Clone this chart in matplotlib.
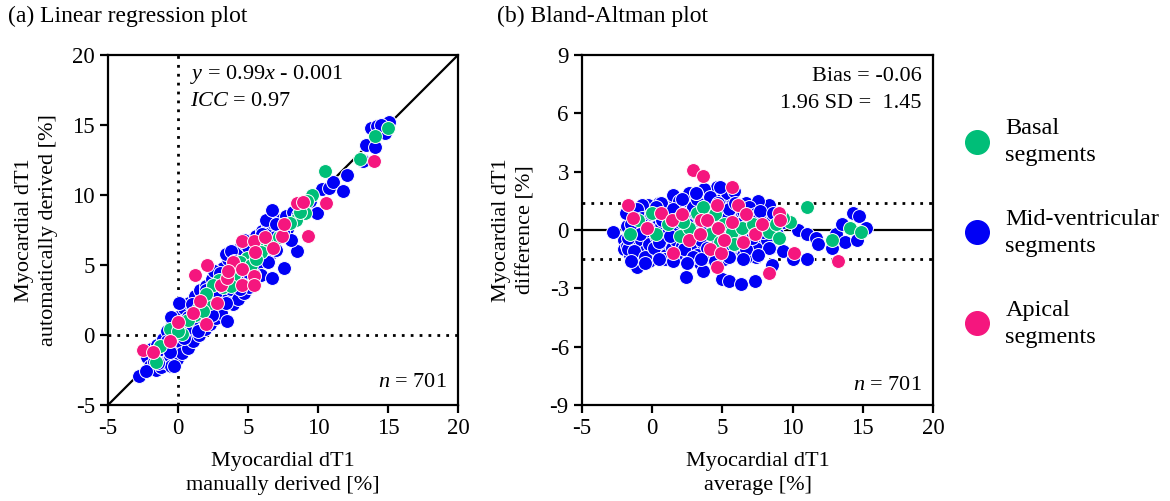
import matplotlib
matplotlib.use("Agg")
import matplotlib.pyplot as plt
from matplotlib.lines import Line2D

plt.rcParams['font.family'] = ['Liberation Serif', 'DejaVu Serif']
plt.rcParams['mathtext.fontset'] = 'custom'
plt.rcParams['mathtext.rm'] = 'Liberation Serif'
plt.rcParams['mathtext.it'] = 'Liberation Serif:italic'
plt.rcParams['axes.unicode_minus'] = False

# couleurs des segments
col_basal = '#00BE78'
col_mid = '#0000F5'
col_apical = '#F5167E'

# (a) regression : manuel (x) vs automatique (y)
reg_mid_x = [-2.2, -2.0, -1.9, -1.7, -1.6, -1.5, -1.4, -1.2, -1.1, -1.0, -0.9, -0.8, -0.7, -0.6, -0.5,
             -0.4, -0.3, -0.2, -0.1, 0.0, 0.1, 0.2, 0.3, 0.4, 0.5, 0.6, 0.7, 0.8, 0.9, 1.0, 1.1, 1.2,
             1.3, 1.4, 1.5, 1.6, 1.7, 1.8, 1.9, 2.0, 2.1, 2.2, 2.3, 2.4, 2.5, 2.6, 2.7, 2.8, 2.9, 3.0,
             3.1, 3.2, 3.3, 3.4, 3.6, 3.7, 3.8, 3.9, 4.0, 4.1, 4.2, 4.3, 4.4, 4.5, 4.6, 4.7, 4.8, 4.9,
             5.0, 5.1, 5.2, 5.3, 5.4, 5.5, 5.6, 5.7, 5.8, 5.9, 6.0, 6.1, 6.2, 6.4, 6.5, 6.6, 6.8, 6.9,
             7.0, 7.3, 7.4, 7.7, 7.8, 8.2, 8.6, 9.0, 9.4, 9.9, 10.3, 10.8, 11.1, 11.8, 12.1, 13.2, 13.4,
             14.1, 13.8, 14.2, 14.8, 15.1, 14.5, 13.2,
             -2.8, -0.3, 3.5, 7.6, 6.7, 8.5, 8.1, 3.4, 3.8, 4.7, 2.6, 0.1, -0.5, 6.3, 6.7, 7.5,
             -1.8, -1.3, -0.8, -0.3, 0.2, 0.7, 1.2, 1.7, 2.2, 2.7, 3.2, 3.7, 4.2, 4.7, 5.2, 5.7, 6.2,
             -2.3, -1.4, -0.6, 0.4, 1.4, 2.4, 3.4, 4.4, 5.4, 6.4, 1.0, 2.0, 3.0, 4.0, 5.0, 6.0, 7.0]
reg_mid_y = [-1.6, -2.2, -1.0, -1.9, -2.5, -0.7, -1.5, -2.3, -0.3, -1.1, -1.9, 0.3, -0.6, -1.5, -2.2,
             0.8, -0.1, -1.0, -1.7, 1.3, 0.4, -0.5, -1.3, 1.9, 0.9, -0.1, -0.9, 2.3, 1.4, 0.4, -0.4, 2.8,
             1.8, 0.8, 0.0, 3.2, 2.2, 1.2, 0.4, 3.5, 2.6, 1.7, 0.8, 4.0, 3.0, 2.1, 1.2, 4.4, 3.4, 2.5,
             1.6, 4.8, 3.8, 2.9, 5.4, 4.3, 3.3, 2.2, 5.9, 4.7, 3.7, 2.6, 6.2, 5.1, 4.1, 3.0, 6.5, 5.5,
             4.5, 3.4, 6.8, 5.8, 4.9, 3.9, 7.1, 6.1, 5.2, 4.3, 7.4, 6.4, 5.5, 7.7, 6.7, 5.8, 8.0, 7.0,
             6.1, 8.2, 7.3, 8.5, 7.6, 8.8, 8.6, 9.4, 9.6, 8.7, 10.4, 10.5, 10.9, 10.3, 11.4, 12.5, 13.6,
             13.4, 14.8, 14.9, 14.4, 15.2, 15.0, 12.4,
             -2.9, -2.2, 1.0, 4.8, 4.1, 6.0, 6.8, 5.8, 6.0, 6.8, 4.6, 2.3, 1.3, 8.2, 8.9, 7.4,
             -1.2, -0.8, -0.4, 0.0, 0.9, 1.3, 1.6, 2.0, 2.5, 3.1, 3.5, 4.0, 4.6, 5.0, 5.5, 6.3, 6.9,
             -2.6, -2.0, -1.2, -0.2, 0.3, 1.4, 2.3, 3.3, 4.3, 5.2, 2.2, 3.2, 4.4, 5.3, 6.3, 7.2, 7.9]

reg_basal_x = [15.0, 14.1, 13.0, 10.5, 9.6, 9.2, 9.1, 8.4, 8.0, 6.2, 5.6, 4.9, 4.4, 4.2, 3.5, 2.9, 2.5,
               2.3, 2.0, 1.5, 1.2, 0.7, 0.3, -0.6, -1.3, -1.6, 3.2, 4.0, 5.2, 6.6, 7.2, 3.8, 1.8, 0.0,
               5.9, 8.7, 5.6]
reg_basal_y = [14.8, 14.2, 12.6, 11.7, 10.0, 9.6, 8.7, 8.2, 8.0, 6.2, 5.6, 5.5, 5.2, 4.6, 4.1, 3.9, 3.6,
               2.3, 2.9, 2.0, 1.4, 1.1, 0.1, 0.4, -0.8, -1.9, 3.4, 4.3, 5.0, 6.5, 7.0, 3.5, 1.7, 0.3,
               5.9, 8.8, 5.4]

reg_apical_x = [-2.5, -1.8, -0.6, 0.0, 1.1, 1.2, 2.1, 1.6, 2.0, 2.8, 3.1, 3.5, 3.9, 4.6, 4.6, 4.6, 5.4,
                5.5, 5.4, 5.4, 6.2, 6.8, 7.4, 7.6, 8.5, 8.9, 9.3, 10.6, 14.0, 3.6]
reg_apical_y = [-1.1, -1.2, -0.4, 0.9, 1.6, 4.3, 5.0, 2.4, 0.8, 2.3, 3.6, 4.1, 5.2, 3.6, 4.7, 6.7, 6.7,
                5.9, 4.2, 3.6, 7.0, 6.2, 7.1, 7.9, 9.4, 9.5, 7.1, 9.4, 12.4, 4.6]

# (b) Bland-Altman : moyenne (x) vs difference (y)
ba_mid_x = [-2.0, -2.0, -1.8, -1.8, -1.6, -1.6, -1.4, -1.3, -1.2, -1.0, -1.0, -0.8, -0.8, -0.6, -0.5,
            -0.4, -0.3, -0.2, 0.0, 0.0, 0.2, 0.3, 0.4, 0.5, 0.6, 0.8, 0.9, 1.0, 1.1, 1.2, 1.3, 1.4,
            1.5, 1.6, 1.7, 1.8, 1.9, 2.0, 2.1, 2.2, 2.3, 2.4, 2.5, 2.6, 2.7, 2.8, 2.9, 3.0, 3.1, 3.2,
            3.3, 3.4, 3.5, 3.6, 3.7, 3.8, 3.9, 4.0, 4.1, 4.2, 4.3, 4.4, 4.5, 4.6, 4.7, 4.8, 4.9, 5.0,
            5.1, 5.2, 5.3, 5.4, 5.5, 5.6, 5.7, 5.8, 5.9, 6.0, 6.1, 6.2, 6.3, 6.4, 6.5, 6.6, 6.7, 6.8,
            6.9, 7.0, 7.1, 7.2, 7.4, 7.5, 7.6, 7.8, 8.0, 8.1, 8.2, 8.5, 8.7, 9.0, 9.3,
            -2.8, -1.1, 2.4, 5.0, 5.5, 6.3, 7.3, 8.5, 8.4, 9.3, 10.0, 11.0, 10.4, 11.0, 11.7, 11.8,
            12.8, 13.1, 13.5, 13.7, 14.3, 14.7, 14.6, 15.2, 8.3, 7.5, 4.8, 5.8, 3.7, 3.1, 1.5, 1.9,
            -0.7, 0.6, 7.4, 6.7, 3.6, 2.5, 3.2, 0.8, -0.2, -1.7, -1.0,
            -1.9, -1.7, -1.5, -1.3, -1.1, -0.9, -0.7, -0.5, -0.3, -0.1, 0.1, 0.3, 0.5, 0.7, 0.9, 1.1,
            1.3, 1.5, 1.7, 1.9, 2.1, 2.3, 2.5, 2.7, 2.9, 3.1, 3.3, 3.5, 3.7, 3.9, 4.1, 4.3, 4.5, 4.7,
            4.9, 5.1, 5.3, 5.5, 5.7, 5.9, 6.1, 6.3, 6.5, 6.7, 6.9, 7.1, 7.3, 7.7, 7.9, 8.3, 8.6, 8.9,
            -1.5, -0.5, 0.5, 1.5, 2.5, 3.5, 4.5, 5.5, 6.5, 7.5]
ba_mid_y = [-0.5, -1.0, 0.2, -0.8, 0.7, -1.3, -0.3, 0.9, -0.9, 0.3, -1.5, 1.2, -0.5, 0.6, -1.1,
            -0.1, 1.3, -0.7, 0.4, -1.3, 1.0, -0.3, -1.0, 1.4, 0.2, -0.7, 0.9, -1.3, -0.1, 1.2, 0.5, -0.9,
            1.7, 0.1, -0.5, 1.0, -1.2, 0.4, -0.8, 1.4, -0.2, 0.8, -1.4, 1.9, 0.2, -0.6, 1.2, -1.1, 0.5, 1.6,
            -0.3, -1.7, 0.9, -0.7, 2.0, 0.2, -1.2, 1.3, -0.4, 0.6, -1.5, 1.7, -0.1, 2.2, -0.9, 0.9, -1.3, 0.3,
            1.5, -0.6, 1.9, 0.0, -1.1, 0.8, 1.3, -0.4, -1.0, 0.5, 1.1, -0.2, -0.8, 0.9, -1.3, 0.2, 1.4, -0.5,
            0.6, -1.0, 1.0, 0.0, -0.7, 1.5, 0.4, -0.3, 0.9, 1.2, -0.5, 0.5, 0.2, 0.3, 0.4,
            -0.1, -1.9, -2.4, -2.5, -2.6, -2.8, -2.6, -1.8, -0.9, -1.1, -1.5, -1.5, 0.0, -0.2, -0.4, -0.7,
            -0.9, -0.2, 0.3, -0.6, 0.9, 0.7, -0.5, 0.1, 1.3, 1.5, 2.2, 2.0, 2.1, 1.9, 1.8, 1.5,
            1.3, 1.4, -1.4, -1.4, -2.1, -1.3, -1.3, -1.5, -1.6, -1.0, -1.4,
            0.9, -0.4, 0.3, -1.1, 1.1, -0.2, 0.6, -1.4, 0.1, 0.8, -0.9, 1.2, -0.6, 0.5, -1.5, 0.7,
            -0.3, 1.1, -1.3, 0.6, 1.6, -1.0, 0.3, -0.1, -1.4, 1.9, 0.9, -0.5, 1.2, -0.9, 1.7, 0.3, -1.2, 1.4,
            -0.3, -1.5, 0.6, 1.1, -0.8, 1.4, 0.3, -0.6, 1.0, -1.0, 1.2, -0.4, 0.8, 1.0, -0.1, -0.9, 0.9, -0.2,
            -1.6, -1.7, -1.5, -1.6, -1.7, -1.5, -1.6, -1.4, -1.5, -1.3]

ba_basal_x = [11.0, -1.6, -1.0, 0.0, 0.3, 1.1, 2.0, 2.6, 3.2, 3.6, 4.1, 4.5, 5.1, 5.7, 5.8, 6.4, 7.2,
              8.3, 9.0, 8.8, 9.8, 9.3, 12.8, 14.1, 14.9, 2.2, 4.8]
ba_basal_y = [1.2, -0.2, 0.5, 0.9, -0.2, 0.3, -0.3, 0.1, 0.9, 1.2, -0.2, 0.8, 0.3, -0.1, -0.7, 0.1, 0.3,
              -0.1, -0.4, 0.3, 0.4, 0.6, -0.5, 0.1, -0.1, 0.4, -0.6]

ba_apical_x = [2.9, 3.6, 5.7, -1.7, -1.4, -0.4, 0.6, 1.4, 2.1, 1.5, 2.6, 3.4, 3.5, 3.9, 4.1, 4.6, 4.6,
               4.7, 4.9, 5.1, 5.7, 6.1, 6.5, 6.7, 7.3, 7.8, 8.3, 9.0, 9.1, 10.1, 13.2]
ba_apical_y = [3.1, 2.8, 2.2, 1.3, 0.6, 0.1, 0.9, 0.5, 0.8, -1.2, -0.5, -0.2, 0.5, 0.5, -1.0, 1.3, -1.9,
               0.1, -1.2, -0.5, 0.4, 1.3, -0.6, 0.8, -0.2, 0.3, -2.2, 0.9, 0.5, -1.2, -1.6]

bias = -0.06
sd196 = 1.45

fig = plt.figure(figsize=(11.7, 5.01), dpi=100)
ax1 = fig.add_axes([108 / 1170, 1 - 405 / 501, 350 / 1170, 350 / 501])
ax2 = fig.add_axes([582 / 1170, 1 - 405 / 501, 351 / 1170, 350 / 501])

fs = 16
pts = dict(s=100, edgecolors='white', linewidths=0.7, zorder=3)
lab = dict(fontsize=fs, linespacing=1.4)

# (a)
ax1.plot([-5, 20], [-5, 20], color='black', lw=1.6, zorder=2)
ax1.axvline(0, color='black', ls=(0, (1, 2.2)), lw=2, zorder=1)
ax1.axhline(0, color='black', ls=(0, (1, 2.2)), lw=2, zorder=1)
ax1.scatter(reg_mid_x, reg_mid_y, color=col_mid, **pts)
ax1.scatter(reg_basal_x, reg_basal_y, color=col_basal, **pts)
ax1.scatter(reg_apical_x, reg_apical_y, color=col_apical, **pts)
ax1.set_xlim(-5, 20)
ax1.set_ylim(-5, 20)
ax1.set_xticks(range(-5, 21, 5))
ax1.set_yticks(range(-5, 21, 5))
ax1.set_xlabel("Myocardial dT1\nmanually derived [%]", labelpad=9, **lab)
ax1.set_ylabel("Myocardial dT1\nautomatically derived [%]", labelpad=10, **lab)
ax1.text(0.86, 18.6, r"$y$ = 0.99$x$ - 0.001", fontsize=fs, va='center')
ax1.text(0.86, 16.7, r"$ICC$ = 0.97", fontsize=fs, va='center')
ax1.text(19.2, -3.4, r"$n$ = 701", fontsize=fs, ha='right', va='center')

# (b)
ax2.axhline(0, color='black', lw=1.6, zorder=1)
ax2.axhline(bias + sd196, color='black', ls=(0, (1, 2.2)), lw=2, zorder=1)
ax2.axhline(bias - sd196, color='black', ls=(0, (1, 2.2)), lw=2, zorder=1)
ax2.scatter(ba_mid_x, ba_mid_y, color=col_mid, **pts)
ax2.scatter(ba_basal_x, ba_basal_y, color=col_basal, **pts)
ax2.scatter(ba_apical_x, ba_apical_y, color=col_apical, **pts)
ax2.set_xlim(-5, 20)
ax2.set_ylim(-9, 9)
ax2.set_xticks(range(-5, 21, 5))
ax2.set_yticks(range(-9, 10, 3))
ax2.set_xlabel("Myocardial dT1\naverage [%]", labelpad=9, **lab)
ax2.set_ylabel("Myocardial dT1\ndifference [%]", labelpad=10, **lab)
ax2.text(19.2, 7.9, "Bias = %.2f" % bias, fontsize=fs, ha='right', va='center')
ax2.text(19.2, 6.5, "1.96 SD =  %.2f" % sd196, fontsize=fs, ha='right', va='center')
ax2.text(19.2, -8.0, r"$n$ = 701", fontsize=fs, ha='right', va='center')

for ax in (ax1, ax2):
    for sp in ax.spines.values():
        sp.set_linewidth(1.6)
    ax.tick_params(direction='out', length=6, width=1.6, labelsize=16.5)

fig.text(8 / 1170, 1 - 16 / 501, "(a) Linear regression plot", fontsize=17, va='center')
fig.text(497 / 1170, 1 - 16 / 501, "(b) Bland-Altman plot", fontsize=17, va='center')

handles = [Line2D([], [], marker='o', ls='', markersize=17, color=c)
           for c in (col_basal, col_mid, col_apical)]
labels = ["Basal\nsegments", "Mid-ventricular\nsegments", "Apical\nsegments"]
leg = fig.legend(handles, labels, loc='center left', bbox_to_anchor=(960 / 1170, 1 - 233 / 501),
                 frameon=False, fontsize=17.5, labelspacing=1.75, handletextpad=0.47,
                 handlelength=1.4, borderpad=0, borderaxespad=0)
for t in leg.get_texts():
    t.set_linespacing(1.4)

fig.savefig("out.png", dpi=100)
